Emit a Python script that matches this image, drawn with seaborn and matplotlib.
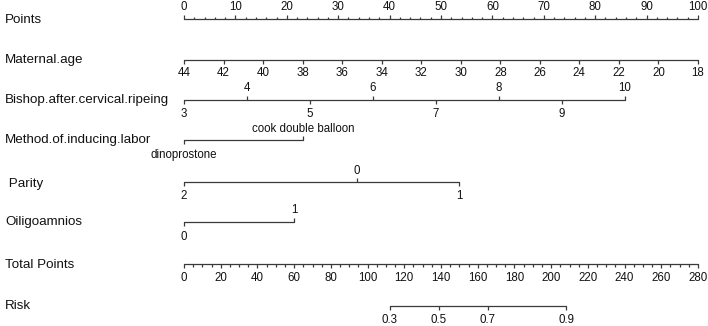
import numpy as np
import pandas as pd
import matplotlib
matplotlib.use("Agg")
import matplotlib.pyplot as plt
import seaborn as sns

sns.set_theme(style="white")
plt.rcParams['font.family'] = ['Liberation Sans', 'DejaVu Sans']

# ---- data (positions on the 0-100 Points scale) ----
points_ticks = list(range(0, 101, 10))
age_labels = [44, 42, 40, 38, 36, 34, 32, 30, 28, 26, 24, 22, 20, 18]
age_points = [0, 7.69, 15.38, 23.08, 30.77, 38.46, 46.15, 53.85, 61.54, 69.23, 76.92, 84.62, 92.31, 100]
bishop_labels = [3, 4, 5, 6, 7, 8, 9, 10]
bishop_points = [0, 12.26, 24.52, 36.78, 49.04, 61.3, 73.56, 85.8]
method_labels = ["dinoprostone", "cook double balloon"]
method_points = [0, 23.2]
parity_labels = ["2", "0", "1"]
parity_points = [0, 33.7, 53.5]
oligo_labels = ["0", "1"]
oligo_points = [0, 21.4]
total_ticks = list(range(0, 281, 20))
total_max = 280
risk_labels = ["0.3", "0.5", "0.7", "0.9"]
risk_total = [112.2, 138.9, 165.6, 208.1]

row_names = ["Points", "Maternal.age", "Bishop.after.cervical.ripeing",
             "Method.of.inducing.labor", " Parity", "Oiligoamnios",
             "Total Points", "Risk"]

# ---- layout ----
W, H = 708, 326
fig = plt.figure(figsize=(W / 100, H / 100), dpi=100)
ax = fig.add_axes([0, 0, 1, 1])
px = 5.14  # pixels per point
x0 = 184
ax.set_xlim(-x0 / px, (W - x0) / px)
ax.set_ylim(H, 0)
ax.axis("off")

LC = "#3a3a3a"
TFS = 8.3
LFS = 9.6
row_y = [19, 60, 100, 140, 182, 222, 264, 306]
label_y = [20, 60, 100, 140, 184, 222, 265, 306]

def hline(xa, xb, y):
    df = pd.DataFrame({"x": [xa, xb], "y": [y, y]})
    sns.lineplot(data=df, x="x", y="y", ax=ax, color=LC, lw=0.9,
                 estimator=None, sort=False, legend=False)

def ticks(xs, y, length):
    ax.vlines(xs, y, y + length, color=LC, lw=0.9)

def labels(xs, texts, y, va):
    for x, t in zip(xs, texts):
        ax.text(x, y, str(t), ha="center", va=va, fontsize=TFS, color="#111111")

# row labels
for name, y in zip(row_names, label_y):
    ax.text(-x0 / px + 5 / px, y, name, ha="left", va="center",
            fontsize=LFS, color="#111111")

# Points
y = row_y[0]
hline(0, 100, y)
ticks(points_ticks, y, -4)
ticks([v for v in range(0, 101, 2) if v % 10], y, -2)
labels(points_ticks, points_ticks, y - 12, "center")

# Maternal age
y = row_y[1]
hline(0, 100, y)
ticks(age_points, y, 4)
labels(age_points, age_labels, y + 13, "center")

# Bishop
y = row_y[2]
hline(bishop_points[0], bishop_points[-1], y)
up = [(p, l) for p, l in zip(bishop_points, bishop_labels) if l % 2 == 0]
dn = [(p, l) for p, l in zip(bishop_points, bishop_labels) if l % 2 == 1]
ticks([p for p, _ in up], y, -4)
ticks([p for p, _ in dn], y, 4)
labels([p for p, _ in up], [l for _, l in up], y - 12, "center")
labels([p for p, _ in dn], [l for _, l in dn], y + 14, "center")

# Method
y = row_y[3]
hline(method_points[0], method_points[1], y)
ticks([method_points[0]], y, 4)
ticks([method_points[1]], y, -4)
labels([method_points[0]], [method_labels[0]], y + 15, "center")
labels([method_points[1]], [method_labels[1]], y - 11, "center")

# Parity
y = row_y[4]
hline(parity_points[0], parity_points[-1], y)
ticks([parity_points[0], parity_points[2]], y, 4)
ticks([parity_points[1]], y, -4)
labels([parity_points[0], parity_points[2]], [parity_labels[0], parity_labels[2]], y + 14, "center")
labels([parity_points[1]], [parity_labels[1]], y - 11, "center")

# Oligoamnios
y = row_y[5]
hline(oligo_points[0], oligo_points[1], y)
ticks([oligo_points[0]], y, 4)
ticks([oligo_points[1]], y, -4)
labels([oligo_points[0]], [oligo_labels[0]], y + 15, "center")
labels([oligo_points[1]], [oligo_labels[1]], y - 12, "center")

# Total points
y = row_y[6]
sc = 100 / total_max
hline(0, 100, y)
ticks([t * sc for t in total_ticks], y, 4)
ticks([t * sc for t in range(0, 281, 5) if t % 20], y, 2.5)
labels([t * sc for t in total_ticks], total_ticks, y + 14, "center")

# Risk
y = row_y[7]
rp = [t * sc for t in risk_total]
hline(rp[0], rp[-1], y)
ticks(rp, y, 4)
labels(rp, risk_labels, y + 14, "center")

fig.savefig("out.png", dpi=100, facecolor="white")
